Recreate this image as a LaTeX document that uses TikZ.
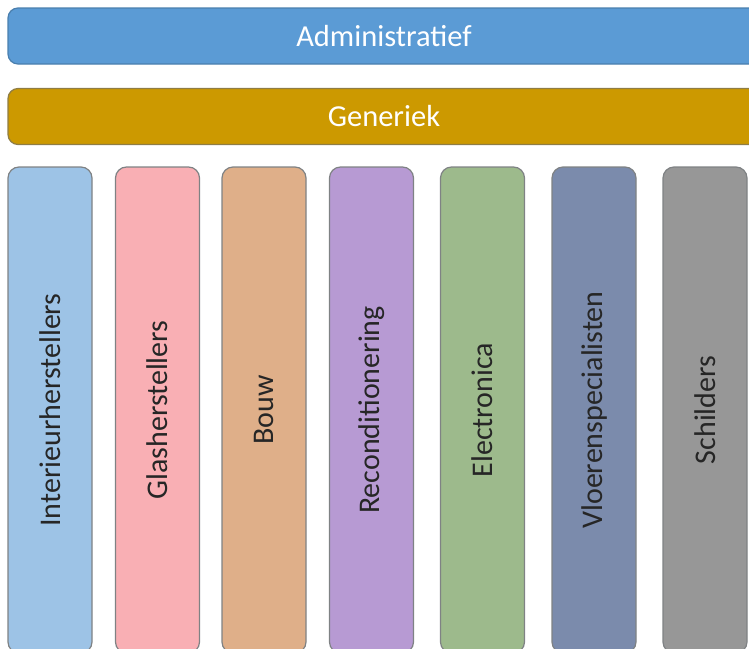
\documentclass[tikz,border=0pt]{standalone}
\usepackage{fontspec}
\setmainfont{Carlito}
\definecolor{adminfill}{HTML}{5B9BD5}
\definecolor{adminline}{HTML}{4A7FAE}
\definecolor{genfill}{HTML}{CC9900}
\definecolor{genline}{HTML}{8F7D45}
\definecolor{c1}{HTML}{9DC3E6}
\definecolor{c2}{HTML}{F9AFB4}
\definecolor{c3}{HTML}{DFAF89}
\definecolor{c4}{HTML}{B79AD3}
\definecolor{c5}{HTML}{9DBA8C}
\definecolor{c6}{HTML}{7B8BAC}
\definecolor{c7}{HTML}{979797}
\definecolor{colline}{HTML}{7F8284}
\definecolor{coltext}{HTML}{262626}
\tikzset{
  bar/.style={draw=#1, line width=1.2pt, rounded corners=10pt, minimum width=752pt,
    minimum height=56pt, inner sep=0pt, text=white, font=\fontsize{30.5}{33}\selectfont},
  col/.style={draw=colline, line width=1.2pt, fill=#1, rounded corners=11pt, rotate=90,
    minimum width=486pt, minimum height=84pt, inner sep=0pt, text=coltext,
    font=\fontsize{30}{33}\selectfont},
}
\begin{document}
\begin{tikzpicture}[x=1pt,y=-1pt]
\useasboundingbox (0,0) rectangle (749,648);
\clip (0,0) rectangle (749,648);
\node[bar=adminline, fill=adminfill] (admin) at (384,36) {Administratief};
\node[bar=genline, fill=genfill] (gen) at (384,116.5) {Generiek};
\node[col=c1] (k1) at (50,410) {Interieurherstellers};
\node[col=c2] (k2) at (157.5,410) {Glasherstellers};
\node[col=c3] (k3) at (264,410) {Bouw};
\node[col=c4] (k4) at (371.5,410) {Reconditionering};
\node[col=c5] (k5) at (482.5,410) {Electronica};
\node[col=c6] (k6) at (594,410) {Vloerenspecialisten};
\node[col=c7] (k7) at (705,410) {Schilders};
\end{tikzpicture}
\end{document}
